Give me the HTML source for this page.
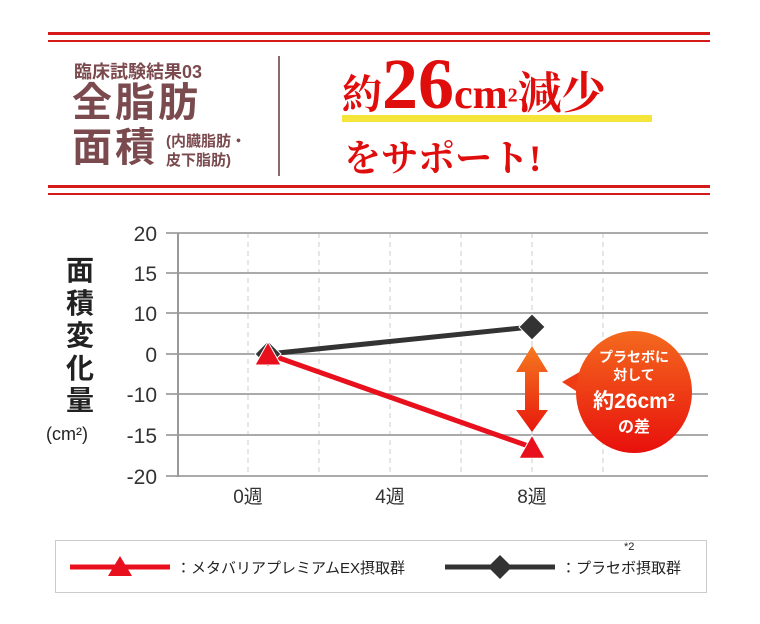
<!DOCTYPE html>
<html><head><meta charset="utf-8">
<style>
body{margin:0;background:#fff;width:760px;height:624px;overflow:hidden;position:relative;font-family:"Liberation Sans","Noto Sans CJK JP",sans-serif}
.abs{position:absolute}
.br{color:#7b4a4e;font-weight:bold}
</style></head><body>
<div class="abs" style="left:48px;top:32px;width:662px;height:3px;background:#d51a1a"></div>
<div class="abs" style="left:48px;top:40px;width:662px;height:2px;background:#d51a1a"></div>
<div class="abs" style="left:48px;top:185px;width:662px;height:3px;background:#d51a1a"></div>
<div class="abs" style="left:48px;top:193px;width:662px;height:2px;background:#d51a1a"></div>
<div class="abs br" style="left:74px;top:58px;font-size:18px">臨床試験結果03</div>
<div class="abs br" style="left:72px;top:80px;font-size:40px;letter-spacing:3px;line-height:46px">全脂肪</div>
<div class="abs br" style="left:72px;top:125px;font-size:40px;letter-spacing:3px;line-height:46px">面積</div>
<div class="abs br" style="left:166px;top:132px;font-size:15px;line-height:19px">(内臓脂肪・<br>皮下脂肪)</div>
<div class="abs" style="left:278px;top:56px;width:2px;height:120px;background:#8a6a6a"></div>
<div class="abs" style="left:342px;top:115px;width:310px;height:7px;background:#f5e43a"></div>
<div class="abs" style="left:342px;top:44px;color:#e00d0d;font-family:'Liberation Serif','Noto Serif CJK SC',serif;font-weight:bold;white-space:nowrap;line-height:80px"><span style="font-size:40px">約</span><span style="font-size:72px">26</span><span style="font-size:42px">cm</span><sup style="font-size:20px">2</sup><span style="font-size:44px">減少</span></div>
<div class="abs" style="left:344px;top:128px;color:#e00d0d;font-family:'Liberation Serif','Noto Serif CJK SC',serif;font-weight:bold;font-size:37px">をサポート!</div>

<div class="abs br" style="left:60px;top:255px;font-size:28px;color:#222;line-height:32.5px;width:40px;text-align:center">面<br>積<br>変<br>化<br>量</div>
<div class="abs" style="left:46px;top:424px;font-size:18px;color:#222">(cm²)</div>

<svg class="abs" style="left:0;top:0" width="760" height="624" id="chart">
<defs>
<linearGradient id="bub" x1="0" y1="0" x2="0" y2="1"><stop offset="0" stop-color="#f46a1e"/><stop offset="1" stop-color="#e8100c"/></linearGradient>
<linearGradient id="arr" x1="0" y1="0" x2="0" y2="1"><stop offset="0" stop-color="#f57a20"/><stop offset="1" stop-color="#e8180c"/></linearGradient>
</defs>
<g id="grid"></g><g id="marks"></g>
<g>
<polygon points="532,346 548,372 539,372 539,410 548,410 532,432 516,410 525,410 525,372 516,372" fill="url(#arr)"/>
</g>
<g>
<polygon points="562,382 590,366 590,400" fill="#f03c14"/>
<ellipse cx="634" cy="392" rx="58" ry="61" fill="url(#bub)"/>
<text x="634" y="362" text-anchor="middle" fill="#fff" font-size="14" font-weight="bold">プラセボに</text>
<text x="634" y="380" text-anchor="middle" fill="#fff" font-size="14" font-weight="bold">対して</text>
<text x="634" y="408" text-anchor="middle" fill="#fff" font-size="21" font-weight="bold">約26cm²</text>
<text x="634" y="432" text-anchor="middle" fill="#fff" font-size="16" font-weight="bold">の差</text>
</g>
</svg>

<div class="abs" style="left:55px;top:540px;width:652px;height:53px;border:1px solid #ccc;box-sizing:border-box"></div>
<svg class="abs" style="left:0;top:0" width="760" height="624">
<g>
<line x1="70" y1="567" x2="170" y2="567" stroke="#e8101c" stroke-width="5"/>
<polygon points="120,556 132,576 108,576" fill="#e8101c"/>
<text x="176" y="573" font-size="15" fill="#222">：メタバリアプレミアムEX摂取群</text>
</g>
<g>
<line x1="445" y1="567" x2="555" y2="567" stroke="#333" stroke-width="5"/>
<polygon points="500,555 512,567 500,579 488,567" fill="#333"/>
<text x="561" y="573" font-size="15" fill="#222">：プラセボ摂取群</text>
<text x="624" y="550" font-size="11" fill="#222">*2</text>
</g>
</svg>

<script>
const yTicks=[20,15,10,0,-10,-15,-20];
const xCats=["0週","4週","8週"];
const xWeeks=[0,4,8];
const pointWeeks=[0,8];
const treatment=[0,-16.5];
const placebo=[0,6.6];
const NS="http://www.w3.org/2000/svg";
const yPix=[233,273,313,354,394,435,476];
function yScale(v){
  for(let i=0;i<yTicks.length-1;i++){const a=yTicks[i],b=yTicks[i+1];
    if(v<=a&&v>=b)return yPix[i]+(a-v)/(a-b)*(yPix[i+1]-yPix[i]);}
  if(v>yTicks[0])return yPix[0]-(v-yTicks[0])*8;
  return yPix[6]+(yTicks[6]-v)*8;
}
function xScale(w){return 248+w*35.5;}
function xPoint(w,i){return i===0?xScale(w)+20:xScale(w);}
const grid=document.getElementById('grid'),marks=document.getElementById('marks');
function mk(t,a,p){const e=document.createElementNS(NS,t);for(const k in a)e.setAttribute(k,a[k]);p.appendChild(e);return e;}
for(let w=0;w<=10;w+=2){
  const l=mk('line',{x1:xScale(w),x2:xScale(w),y1:233,y2:476,stroke:'#ccc','stroke-dasharray':'5,4'},grid);
  
  
}
yTicks.forEach(v=>{
  const l=mk('line',{x1:166,x2:708,y1:yScale(v),y2:yScale(v),stroke:'#aaa','stroke-width':2},grid);
  
  
  const t=mk('text',{x:157,y:yScale(v)+8,'text-anchor':'end','font-size':21,fill:'#333'},grid);
  t.textContent=v;
  
  
});
const ax=mk('line',{x1:178,x2:178,y1:233,y2:477,stroke:'#999','stroke-width':2},grid);


xCats.forEach((c,i)=>{
  const t=mk('text',{x:xScale(xWeeks[i]),y:503,'text-anchor':'middle','font-size':19,fill:'#333'},grid);
  t.textContent=c;
  
  
});
const pl=mk('polyline',{points:pointWeeks.map((w,i)=>xPoint(w,i)+','+yScale(placebo[i])).join(' '),fill:'none',stroke:'#333','stroke-width':5},marks);


const tl=mk('polyline',{points:pointWeeks.map((w,i)=>xPoint(w,i)+','+yScale(treatment[i])).join(' '),fill:'none',stroke:'#e8101c','stroke-width':5},marks);


pointWeeks.forEach((w,i)=>{
  const x=xPoint(w,i),y=yScale(placebo[i]);
  const d=mk('polygon',{points:`${x},${y-13} ${x+13},${y} ${x},${y+13} ${x-13},${y}`,fill:'#333',stroke:'#fff','stroke-width':1},marks);
  
  
});
pointWeeks.forEach((w,i)=>{
  const x=xPoint(w,i),y=yScale(treatment[i]);
  const t=mk('polygon',{points:`${x},${y-12} ${x+13},${y+11} ${x-13},${y+11}`,fill:'#e8101c',stroke:'#fff','stroke-width':1},marks);
  
  
});
</script>
</body></html>
